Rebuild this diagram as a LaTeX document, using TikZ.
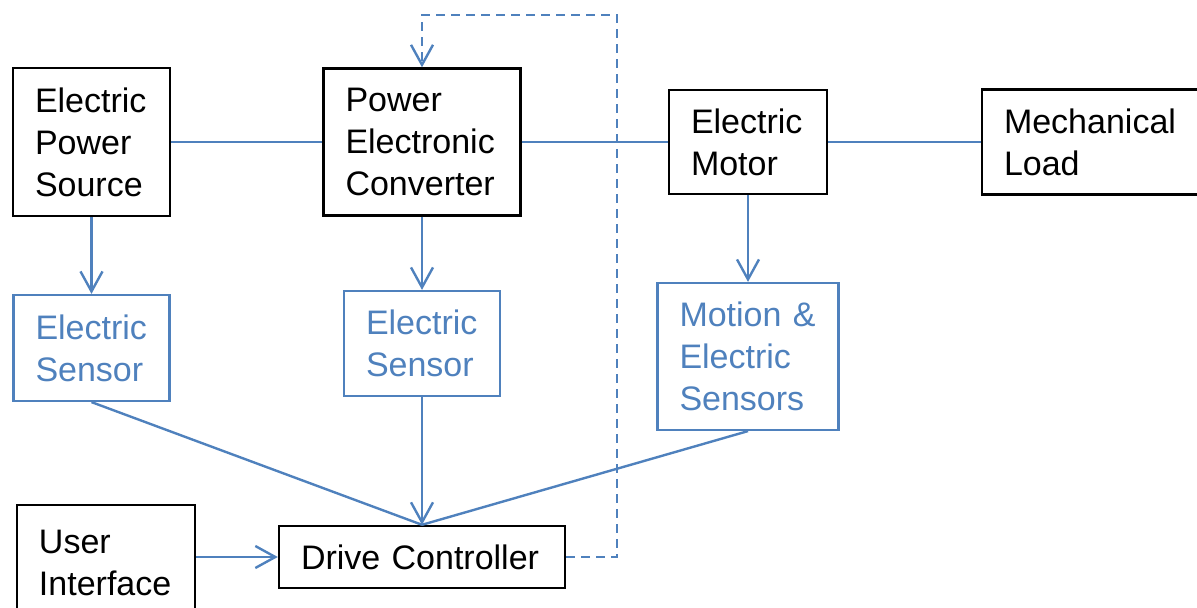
\documentclass[tikz,border=0pt]{standalone}
\usepackage{fontspec}
\setmainfont{Liberation Sans}
\usetikzlibrary{arrows.meta}
\definecolor{azulclaro}{HTML}{4F81BD}

\begin{document}
\begin{tikzpicture}[x=0.5pt,y=-0.5pt,
  bloco/.style={draw=black,line width=1.2pt,inner xsep=11pt,inner ysep=0pt,align=left,font=\fontsize{17}{21}\selectfont},
  sensor/.style={bloco,draw=azulclaro,line width=1.1pt,text=azulclaro},
  liga/.style={draw=azulclaro,line width=1.2pt},
  seta/.style={liga,-{Straight Barb[length=10pt,width=11pt]}}]
\useasboundingbox (0,0) rectangle (1197,608);
\clip (0,0) rectangle (1197,608);
% linha de cima
\node[bloco,minimum width=78.5pt,minimum height=74pt,text width=56.5pt] (fonte) at (91.5,142) {Electric\\Power\\Source};
\node[bloco,minimum width=98.5pt,minimum height=73.5pt,text width=76.5pt] (conv) at (422,142) {Power\\Electronic\\Converter};
\node[bloco,minimum width=79pt,minimum height=52pt,text width=57pt] (motor) at (748,142) {Electric\\Motor};
\node[bloco,minimum width=124pt,minimum height=52.5pt,text width=102pt] (carga) at (1106,142) {Mechanical\\Load};
% sensores
\node[sensor,minimum width=78pt,minimum height=53pt,text width=56pt] (sens1) at (91.5,348) {Electric\\Sensor};
\node[sensor,minimum width=78pt,minimum height=52.5pt,text width=56pt] (sens2) at (422,343.5) {Electric\\Sensor};
\node[sensor,minimum width=90.5pt,minimum height=73.5pt,text width=68.5pt] (sens3) at (748,356.5) {Motion \&\\Electric\\Sensors};
% controle
\node[bloco,minimum width=89pt,minimum height=58pt,text width=67pt] (ui) at (106,563) {User\\Interface};
\node[bloco,minimum width=143pt,minimum height=31pt,text width=121pt] (ctrl) at (422,557) {Drive Controller};
\coordinate (topo) at (617,15);

\draw[liga] (fonte) -- (conv);
\draw[liga] (conv) -- (motor);
\draw[liga] (motor) -- (carga);
\draw[seta] (fonte) -- (sens1);
\draw[seta] (conv) -- (sens2);
\draw[seta] (motor) -- (sens3);
\draw[liga] (sens1.south) -- (ctrl.north);
\draw[liga] (sens3.south) -- (ctrl.north);
\draw[seta] (sens2) -- (ctrl);
\draw[seta] (ui.east |- ctrl.west) -- (ctrl.west);
\draw[seta,dash pattern=on 4.5pt off 3pt] (ctrl.east) -| (topo) -| (conv.north);
\end{tikzpicture}
\end{document}
